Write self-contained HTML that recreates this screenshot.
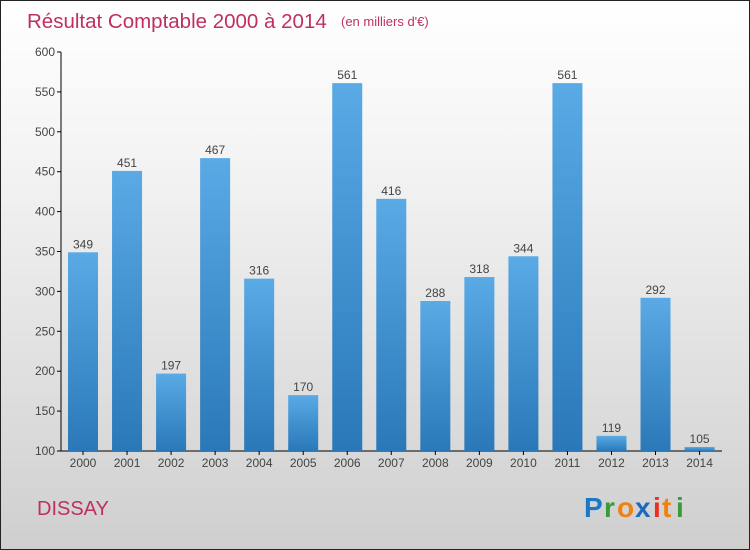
<!DOCTYPE html>
<html><head><meta charset="utf-8"><style>
body{margin:0}
#c{width:750px;height:550px;position:relative;box-sizing:border-box;border:1px solid #222;background:linear-gradient(#ffffff,#f3f3f3 30%,#cfcfcf);font-family:"Liberation Sans",sans-serif;overflow:hidden}
</style></head><body>
<div id="c">
<svg width="750" height="550" style="position:absolute;left:0;top:0">
<defs><linearGradient id="bg" x1="0" y1="0" x2="0" y2="1"><stop offset="0" stop-color="#5aaae6"/><stop offset="1" stop-color="#2a78b8"/></linearGradient></defs>
<text x="26" y="27" font-size="20.5" fill="#c0305e">Résultat Comptable 2000 à 2014</text>
<text x="340" y="25" font-size="13" fill="#c0305e">(en milliers d'€)</text>
<g id="g"></g>
<text x="36" y="514" font-size="20" fill="#c0305e">DISSAY</text>
<g font-size="28" font-weight="bold" font-family="Liberation Sans, sans-serif">
<text x="583" y="516" fill="#1a78c8">P</text><text x="603" y="516" fill="#3a9a3a">r</text><text x="616" y="516" fill="#f08010">o</text><text x="634" y="516" fill="#1a6ac0">x</text><text x="652" y="516" fill="#e83020">i</text><text x="661" y="516" fill="#f08010">t</text><text x="675" y="516" fill="#3a9a3a">i</text>
</g>
</svg>
</div>
<script>
const years=["2000","2001","2002","2003","2004","2005","2006","2007","2008","2009","2010","2011","2012","2013","2014"];
const values=[349,451,197,467,316,170,561,416,288,318,344,561,119,292,105];
const ticks=[100,150,200,250,300,350,400,450,500,550,600];
const NS="http://www.w3.org/2000/svg";
const g=document.getElementById('g');
const y=v=>450-(v-100)*0.798;
const x=i=>82+i*44.04;
function mk(t,a,p){const e=document.createElementNS(NS,t);for(const k in a)e.setAttribute(k,a[k]);(p||g).appendChild(e);return e;}
let ax=mk('line',{x1:60,y1:51,x2:60,y2:450,stroke:'#000'});


let xa=mk('line',{x1:60,y1:450,x2:721,y2:450,stroke:'#000'});


ticks.forEach(t=>{
 mk('line',{x1:56,y1:y(t),x2:60,y2:y(t),stroke:'#000'});
 const l=mk('text',{x:54,y:y(t)+4,'text-anchor':'end','font-size':12,fill:'#444'});
 l.textContent=t;
 
 
});
values.forEach((v,i)=>{
 const b=mk('rect',{x:x(i)-15,y:y(v),width:30,height:450-y(v),fill:'url(#bg)'});
 
 
 const t=mk('text',{x:x(i),y:y(v)-4,'text-anchor':'middle','font-size':12,fill:'#444'});
 t.textContent=v;
 
 
 mk('line',{x1:x(i),y1:450,x2:x(i),y2:454,stroke:'#000'});
 const yl=mk('text',{x:x(i),y:466,'text-anchor':'middle','font-size':12,fill:'#444'});
 yl.textContent=years[i];
 
 
});
</script>
</body></html>
